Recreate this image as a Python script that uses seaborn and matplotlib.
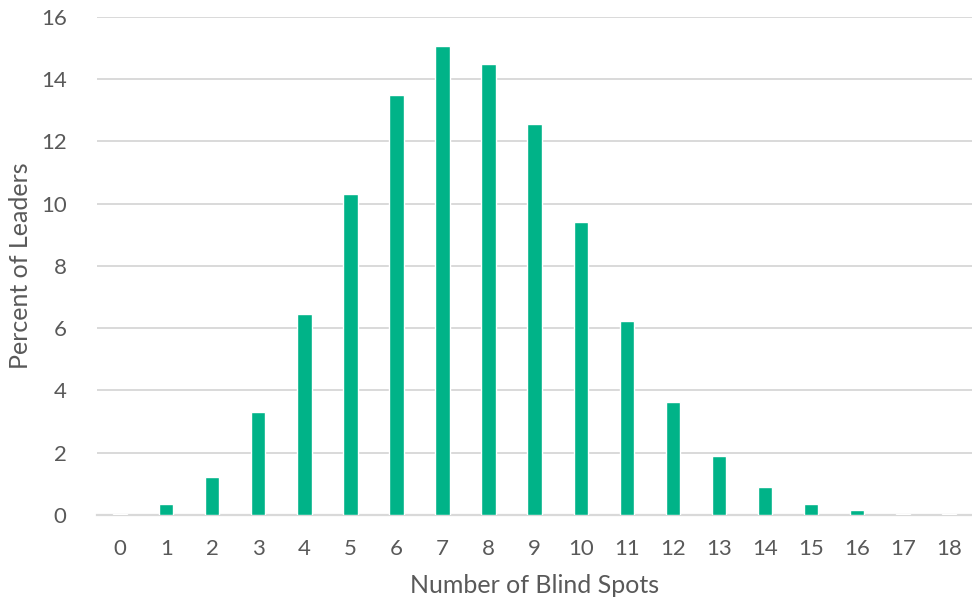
import numpy as np
import pandas as pd
import matplotlib
matplotlib.use("Agg")
import matplotlib.pyplot as plt
import seaborn as sns

# данные
blind_spots = list(range(19))
percent_leaders = [0.04, 0.36, 1.22, 3.3, 6.45, 10.3, 13.5, 15.06, 14.5, 12.55,
                   9.4, 6.23, 3.63, 1.89, 0.91, 0.36, 0.16, 0.03, 0.02]
y_ticks = [0, 2, 4, 6, 8, 10, 12, 14, 16]

df = pd.DataFrame({"spots": blind_spots, "pct": percent_leaders})

sns.set_style("white")
plt.rcParams["font.family"] = ["Lato", "DejaVu Sans"]

text_color = "#595959"
bar_color = "#00B388"

fig, ax = plt.subplots(figsize=(9.72, 6.03), dpi=100)
fig.subplots_adjust(left=0.1, right=1.0, top=0.972, bottom=0.146)

sns.barplot(data=df, x="spots", y="pct", color=bar_color, width=0.31,
            saturation=1, ax=ax, zorder=3)

ax.set_xlim(-0.5, 18.5)
ax.set_ylim(0, 16)
ax.set_yticks(y_ticks)
ax.yaxis.grid(True, color="#d9d9d9", linewidth=1.4, zorder=0)
ax.xaxis.grid(False)
for s in ["top", "right", "left"]:
    ax.spines[s].set_visible(False)
ax.spines["bottom"].set_color("#d9d9d9")
ax.spines["bottom"].set_linewidth(1.6)

ax.tick_params(axis="both", length=0, labelsize=16, colors=text_color)
ax.tick_params(axis="x", pad=17)
ax.tick_params(axis="y", pad=22)

ax.set_xlabel("Number of Blind Spots", fontsize=18, color=text_color, labelpad=11)
ax.set_ylabel("Percent of Leaders", fontsize=18, color=text_color, labelpad=6)

plt.savefig("out.png", dpi=100)
